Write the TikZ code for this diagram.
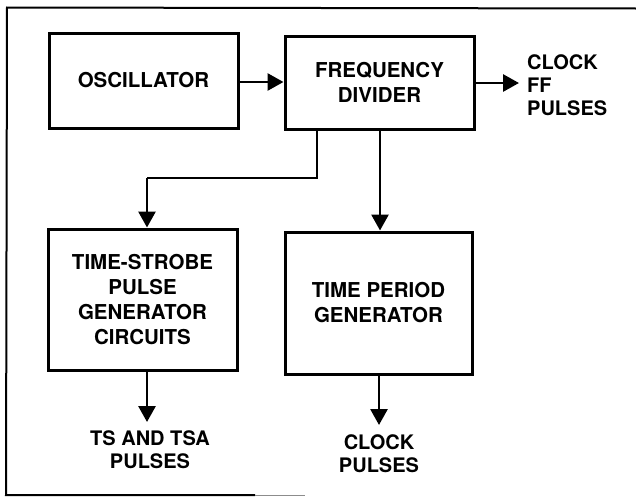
\documentclass[tikz,border=0pt]{standalone}
\usepackage{fontspec}
\setmainfont{TeX Gyre Heros}
\usetikzlibrary{arrows.meta}
\begin{document}
\begin{tikzpicture}[x=1pt,y=-1pt,
  blk/.style={draw,line width=3pt,minimum width=#1,inner sep=0pt,align=center,
    font=\bfseries\fontsize{20.5}{25}\selectfont},
  lbl/.style={inner sep=0pt,font=\bfseries\fontsize{20}{23}\selectfont},
  conn/.style={line width=2.8pt,-{Triangle[length=16pt,width=17pt]}},
  wire/.style={line width=2.8pt}]
\useasboundingbox (0,0) rectangle (636,498);
% frame
\draw[line width=2pt] (636,8.5) -- (7,7.5) -- (6,495) -- (255,495);
\draw[line width=1pt,black!45] (255,495) -- (305,495);
% blocks
\node[blk=189pt,minimum height=95pt] (osc) at (143.5,80.5) {OSCILLATOR};
\node[blk=189pt,minimum height=93pt] (fd) at (379.5,82.5) {FREQUENCY\\DIVIDER};
\node[blk=189pt,minimum height=141pt] (ts) at (142.5,299.5) {TIME-STROBE\\PULSE\\GENERATOR\\CIRCUITS};
\node[blk=187pt,minimum height=142pt] (tp) at (378.5,303) {TIME PERIOD\\GENERATOR};
% output labels
\node[lbl,anchor=west,align=left] (clk) at (527,85) {CLOCK\\FF\\PULSES};
\node[lbl,align=center] (tsp) at (150,450) {TS AND TSA\\PULSES};
\node[lbl,align=center] (cp) at (379,454) {CLOCK\\PULSES};
% coordinates
\coordinate (fdA) at (317,129);
\coordinate (bend1) at (317,178);
\coordinate (bend2) at (147,178);
\coordinate (fdB) at (380,129);
\coordinate (clkin) at (519,83);
\coordinate (tsout) at (147,422);
\coordinate (tpout) at (379,425);
% connectors
\draw[conn] (osc.east |- 0,82) -- (fd.west |- 0,82);
\draw[conn] (fd.east |- clkin) -- (clkin);
\draw[wire] (fdA) -- (bend1) -- (bend2);
\draw[conn] (bend2) -- (bend2 |- ts.north);
\draw[conn] (fdB) -- (fdB |- tp.north);
\draw[conn] (ts.south -| tsout) -- (tsout);
\draw[conn] (tp.south -| tpout) -- (tpout);
\end{tikzpicture}
\end{document}
